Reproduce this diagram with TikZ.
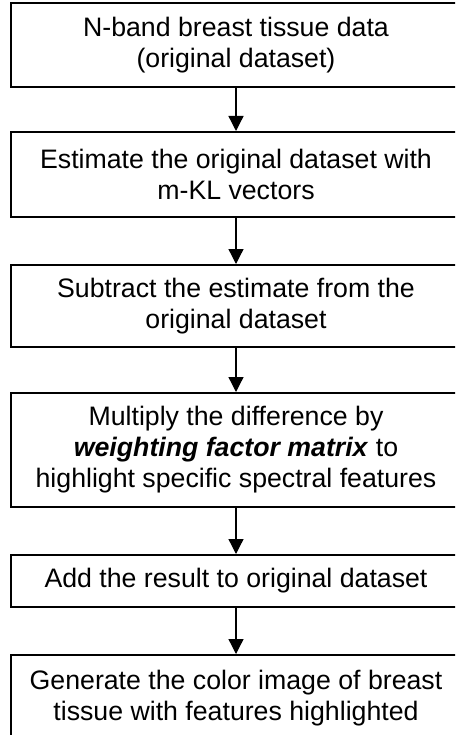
\documentclass[tikz,border=0pt]{standalone}
\usepackage{fontspec}
\setmainfont{Liberation Sans}
\usetikzlibrary{arrows.meta}
\begin{document}
\begin{tikzpicture}[x=1pt,y=-1pt,
  stepbox/.style={draw=black, line width=2pt, rectangle, minimum width=450pt, inner sep=0pt, align=center,
    font=\fontsize{26.7}{31}\selectfont},
  flow/.style={line width=1.3pt, -{Triangle[length=15pt,width=15pt]}}]
\useasboundingbox (0,0) rectangle (455,735);
\clip (0,0) rectangle (455,735);
\fill[white] (0,0) rectangle (455,735);
\node[stepbox, minimum height=84pt] (b1) at (236,45) {N-band breast tissue data\\(original dataset)};
\node[stepbox, minimum height=85pt] (b2) at (236,174.5) {Estimate the original dataset with\\m-KL vectors};
\node[stepbox, minimum height=82pt] (b3) at (236,306) {Subtract the estimate from the\\original dataset};
\node[stepbox, minimum height=114pt] (b4) at (236,450) {Multiply the difference by\\\textbf{\textit{weighting factor matrix}} to\\highlight specific spectral features};
\node[stepbox, minimum height=52pt] (b5) at (236,581) {Add the result to original dataset};
\node[stepbox, minimum height=86pt] (b6) at (236,698) {Generate the color image of breast\\tissue with features highlighted};
\draw[flow] (b1.south) -- (b2.north);
\draw[flow] (b2.south) -- (b3.north);
\draw[flow] (b3.south) -- (b4.north);
\draw[flow] (b4.south) -- (b5.north);
\draw[flow] (b5.south) -- (b6.north);
\end{tikzpicture}
\end{document}
